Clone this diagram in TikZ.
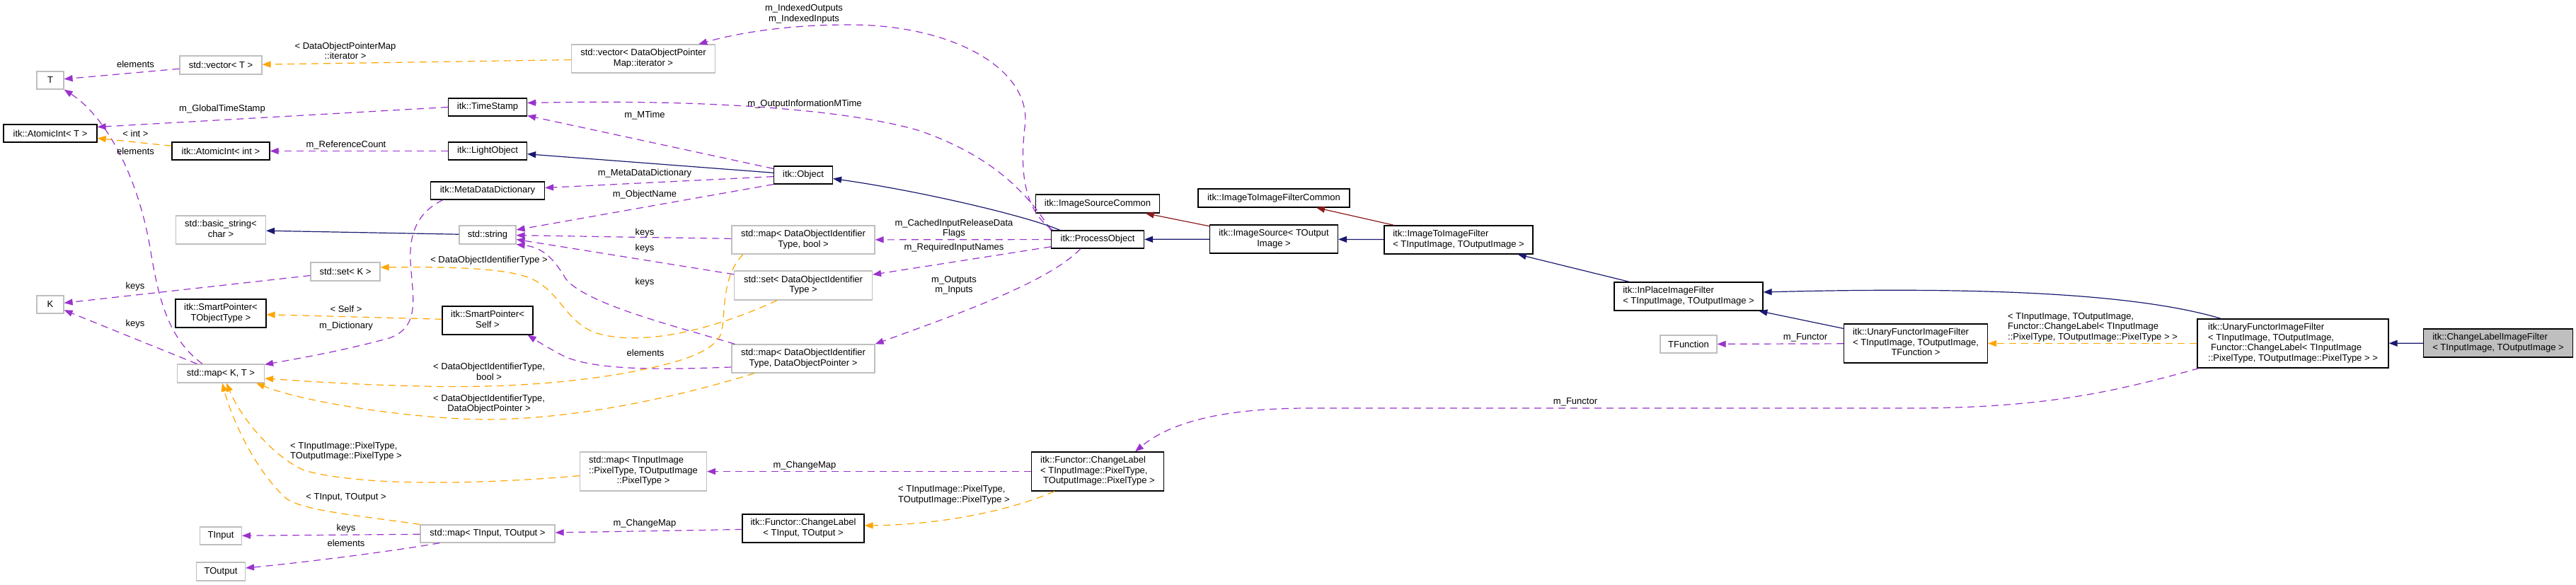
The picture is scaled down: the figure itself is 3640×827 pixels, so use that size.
\documentclass[tikz,border=0pt]{standalone}
\usepackage{fontspec}
\setmainfont{Liberation Sans}
\usetikzlibrary{arrows.meta,calc}
\definecolor{purp}{RGB}{154,50,205}
\definecolor{orng}{RGB}{255,165,0}
\definecolor{navy}{RGB}{25,25,112}
\definecolor{fire}{RGB}{139,26,26}
\definecolor{gry}{RGB}{191,191,191}
\newcommand\dxl[1]{\begin{tabular}{@{}l@{}}#1\end{tabular}}
\newcommand\dxc[1]{\multicolumn{1}{@{}c@{}}{#1}}
\begin{document}
\begin{tikzpicture}[x=1pt,y=-1pt,font=\fontsize{13}{14.5}\selectfont,
 box/.style={draw=black,line width=1.2pt,inner sep=0pt,minimum height=25pt,fill=white},
 gbox/.style={box,draw=gry},
 use/.style={draw=purp,line width=1.2pt,dash pattern=on 10pt off 7pt,-{Triangle[length=12pt,width=9pt]}},
 tpl/.style={use,draw=orng},
 pub/.style={draw=navy,line width=1.2pt,-{Triangle[length=12pt,width=9pt]}},
 prot/.style={pub,draw=fire},
 lab/.style={inner sep=0pt,align=center}]
\fill[white] (0,0) rectangle (3640,827);
\useasboundingbox (0,0) rectangle (3640,827);
% nodes
\node[gbox,minimum width=38pt] (T) at (71,113.5) {T};
\node[gbox,minimum width=116pt,minimum height=26pt] (vecT) at (312,92) {std::vector< T >};
\node[box,minimum width=132pt] (aiT) at (71,188.5) {itk::AtomicInt< T >};
\node[box,minimum width=138pt] (aiInt) at (312,213.5) {itk::AtomicInt< int >};
\node[gbox,minimum width=127pt,minimum height=40pt] (bstr) at (312,325) {\dxl{std::basic\_string<\\\dxc{char >}}};
\node[gbox,minimum width=98pt,minimum height=26pt] (setK) at (488,384) {std::set< K >};
\node[gbox,minimum width=38pt] (K) at (71,430.5) {K};
\node[box,minimum width=128pt,minimum height=40pt] (spT) at (312,443) {\dxl{itk::SmartPointer<\\\dxc{TObjectType >}}};
\node[gbox,minimum width=123pt,minimum height=26pt] (mapKT) at (312,528) {std::map< K, T >};
\node[gbox,minimum width=59pt] (TIn) at (312,757.5) {TInput};
\node[gbox,minimum width=69pt,minimum height=26pt] (TOut) at (312,808) {TOutput};
\node[gbox,minimum width=190pt] (mapIO) at (689,754.5) {std::map< TInput, TOutput >};
\node[gbox,minimum width=203pt,minimum height=40pt] (vecDOP) at (909,83) {\dxl{std::vector< DataObjectPointer\\\dxc{Map::iterator >}}};
\node[box,minimum width=111pt] (ts) at (689,151.5) {itk::TimeStamp};
\node[box,minimum width=111pt] (lo) at (689,213.5) {itk::LightObject};
\node[box,minimum width=161pt] (mdd) at (689,269.5) {itk::MetaDataDictionary};
\node[gbox,minimum width=80pt,minimum height=26pt] (str) at (689,332) {std::string};
\node[box,minimum width=83pt] (obj) at (1135,247.5) {itk::Object};
\node[gbox,minimum width=202pt,minimum height=40pt] (mapB) at (1135,339) {\dxl{std::map< DataObjectIdentifier\\\dxc{Type, bool >}}};
\node[gbox,minimum width=195pt,minimum height=41pt] (setD) at (1135,403.5) {\dxl{std::set< DataObjectIdentifier\\\dxc{Type >}}};
\node[box,minimum width=128pt,minimum height=40pt] (spS) at (689,453) {\dxl{itk::SmartPointer<\\\dxc{Self >}}};
\node[gbox,minimum width=202pt,minimum height=40pt] (mapP) at (1135,507) {\dxl{std::map< DataObjectIdentifier\\\dxc{Type, DataObjectPointer >}}};
\node[gbox,minimum width=179pt,minimum height=55pt] (mapPix) at (909,666.5) {\dxl{std::map< TInputImage\\::PixelType, TOutputImage\\\dxc{::PixelType >}}};
\node[box,minimum width=172pt,minimum height=40pt] (clIO) at (1135,747) {\dxl{itk::Functor::ChangeLabel\\\dxc{< TInput, TOutput >}}};
\node[box,minimum width=131pt] (po) at (1551,338.5) {itk::ProcessObject};
\node[box,minimum width=175pt,minimum height=26pt] (isc) at (1551,288) {itk::ImageSourceCommon};
\node[box,minimum width=214pt,minimum height=26pt] (itic) at (1800,280) {itk::ImageToImageFilterCommon};
\node[box,minimum width=181pt,minimum height=40pt] (is) at (1800,338) {\dxl{itk::ImageSource< TOutput\\\dxc{Image >}}};
\node[box,minimum width=210pt,minimum height=40pt] (itif) at (2061,339) {\dxl{itk::ImageToImageFilter\\< TInputImage, TOutputImage >}};
\node[box,minimum width=210pt,minimum height=40pt] (ipf) at (2386,419) {\dxl{itk::InPlaceImageFilter\\< TInputImage, TOutputImage >}};
\node[gbox,minimum width=80pt] (tf) at (2386,486.5) {TFunction};
\node[box,minimum width=203pt,minimum height=55pt] (uftf) at (2707,485.5) {\dxl{itk::UnaryFunctorImageFilter\\< TInputImage, TOutputImage,\\\dxc{TFunction >}}};
\node[box,minimum width=270pt,minimum height=69pt] (ufcl) at (3240,485.5) {\dxl{itk::UnaryFunctorImageFilter\\< TInputImage, TOutputImage,\\\hspace*{4pt}Functor::ChangeLabel< TInputImage\\::PixelType, TOutputImage::PixelType > >}};
\node[box,fill=gry,minimum width=211pt,minimum height=40pt] (clf) at (3530,485) {\dxl{itk::ChangeLabelImageFilter\\< TInputImage, TOutputImage >}};
\node[box,minimum width=187pt,minimum height=55pt] (clP) at (1551,666.5) {\dxl{itk::Functor::ChangeLabel\\< TInputImage::PixelType,\\\hspace*{4pt}TOutputImage::PixelType >}};
% purple usage edges
\draw[use] (vecT) -- (T);
\draw[use] ($(mapKT.north)+(-26,0)$) .. controls (240,480) and (225,430) .. (212,350) .. controls (195,250) and (150,165) .. (T.south east);
\draw[use] (ts.west) -- ($(aiT.east)+(0,-9)$);
\draw[use] (lo) -- (aiInt);
\draw[use] (setK) -- (K);
\draw[use] (mapKT) -- (K);
\draw[use] ($(mdd.south west)+(18,0)$) .. controls (590,300) and (578,330) .. (580,370) .. controls (583,420) and (595,462) .. (550,478) .. controls (480,497) and (420,507) .. ($(mapKT.north east)+(0,1)$);
\draw[use] (mapIO) -- (TIn);
\draw[use] ($(mapIO.south west)+(28,0)$) .. controls (550,780) and (430,795) .. ($(TOut.east)+(0,-5)$);
\draw[use] ($(mapP.west)+(0,12)$) .. controls (950,522) and (850,525) .. (800,505) .. controls (780,495) and (762,484) .. ($(spS.south east)+(-8,0)$);
\draw[use] (obj) -- (ts);
\draw[use] (po.north west) .. controls (1450,270) and (1400,220) .. (1300,185) .. controls (1200,155) and (1000,140) .. ($(ts.east)+(0,-6)$);
\draw[use] ($(po.north west)+(3,0)$) .. controls (1450,300) and (1440,250) .. (1448,180) .. controls (1460,100) and (1350,35) .. (1200,35) .. controls (1100,35) and (1030,50) .. ($(vecDOP.north east)+(-24,0)$);
\draw[use] (obj) -- (mdd);
\draw[use] (obj.south west) -- ($(str.east)+(0,-7)$);
\draw[use] (mapB) -- (str);
\draw[use] (setD) -- (str);
\draw[use] ($(mapP.north west)+(5,0)$) .. controls (950,460) and (830,430) .. (800,395) .. controls (785,370) and (770,350) .. (str.south east);
\draw[use] (po) -- (mapB);
\draw[use] (po) -- (setD);
\draw[use] ($(po.south)+(-24,0)$) .. controls (1480,400) and (1350,445) .. (mapP.north east);
\draw[use] (uftf) -- (tf);
\draw[use] ($(ufcl.south west)+(3,0)$) .. controls (3000,550) and (2900,577) .. (2700,577) -- (1850,577) .. controls (1720,577) and (1650,600) .. ($(clP.north)+(53,0)$);
\draw[use] (clP) -- (mapPix);
\draw[use] (clIO) -- (mapIO);
% orange template edges
\draw[tpl] (aiInt) -- (aiT);
\draw[tpl] (vecDOP) -- (vecT);
\draw[tpl] (spS) -- (spT);
\draw[tpl] ($(setD.south)+(-37,0)$) .. controls (1000,470) and (900,490) .. (840,470) .. controls (795,452) and (790,405) .. (740,390) .. controls (700,378) and (620,377) .. ($(setK.east)+(0,-6)$);
\draw[tpl] ($(mapB.south)+(-85,0)$) .. controls (1020,390) and (1025,440) .. (1020,468) .. controls (1012,500) and (950,515) .. (880,528) .. controls (780,545) and (680,548) .. (600,546) .. controls (500,544) and (420,538) .. ($(mapKT.east)+(0,7)$);
\draw[tpl] ($(mapP.south)+(-69,0)$) .. controls (980,555) and (800,600) .. (650,592) .. controls (540,586) and (420,565) .. ($(mapKT.south east)+(-12,0)$);
\draw[tpl] ($(mapPix.west)+(0,6)$) .. controls (700,683) and (520,690) .. (430,665) .. controls (385,645) and (340,590) .. ($(mapKT.south)+(8,0)$);
\draw[tpl] (mapIO.north west) .. controls (500,728) and (430,722) .. (405,705) .. controls (365,670) and (330,600) .. ($(mapKT.south)+(2,0)$);
\draw[tpl] ($(clP.south west)+(33,0)$) .. controls (1420,725) and (1320,742) .. ($(clIO.east)+(0,-4)$);
\draw[tpl] (ufcl) -- (uftf);
% inheritance edges
\draw[pub] (str) -- (bstr);
\draw[pub] (obj) -- (lo);
\draw[pub] ($(po.north west)+(13,0)$) .. controls (1450,305) and (1300,270) .. ($(obj.east)+(0,5)$);
\draw[pub] (is) -- (po);
\draw[pub] (itif) -- (is);
\draw[pub] (ipf) -- (itif);
\draw[pub] (uftf) -- (ipf);
\draw[pub] ($(ufcl.north west)+(34,0)$) .. controls (3020,415) and (2800,405) .. ($(ipf.east)+(0,-6)$);
\draw[pub] (clf) -- (ufcl);
\draw[prot] (is) -- (isc);
\draw[prot] (itif) -- (itic);
% edge labels
\node[lab] (l1) at (191.5,91) {elements};
\node[lab] (l2) at (191.5,214) {elements};
\node[lab] (l3) at (314,154) {m\_GlobalTimeStamp};
\node[lab] (l4) at (191.5,189) {< int >};
\node[lab] (l5) at (489,205) {m\_ReferenceCount};
\node[lab] (l6) at (191,405) {keys};
\node[lab] (l7) at (191,458) {keys};
\node[lab] (l8) at (488,72) {< DataObjectPointerMap\\::iterator >};
\node[lab] (l9) at (489,437) {< Self >};
\node[lab] (l10) at (489,461) {m\_Dictionary};
\node[lab,align=left] (l11) at (489,638) {< TInputImage::PixelType,\\TOutputImage::PixelType >};
\node[lab] (l12) at (489,703) {< TInput, TOutput >};
\node[lab] (l13) at (489,747) {keys};
\node[lab] (l14) at (489,768) {elements};
\node[lab] (l15) at (1136,19.5) {m\_IndexedOutputs\\m\_IndexedInputs};
\node[lab] (l16) at (1137,147) {m\_OutputInformationMTime};
\node[lab] (l17) at (911,163) {m\_MTime};
\node[lab] (l18) at (911,245) {m\_MetaDataDictionary};
\node[lab] (l19) at (911,275) {m\_ObjectName};
\node[lab] (l20) at (911,329) {keys};
\node[lab] (l21) at (911,351) {keys};
\node[lab] (l22) at (691,368) {< DataObjectIdentifierType >};
\node[lab] (l23) at (911,399) {keys};
\node[lab] (l24) at (691,525.5) {< DataObjectIdentifierType,\\bool >};
\node[lab] (l25) at (912,499) {elements};
\node[lab] (l26) at (691,571) {< DataObjectIdentifierType,\\DataObjectPointer >};
\node[lab] (l27) at (1137,658) {m\_ChangeMap};
\node[lab] (l28) at (911,740) {m\_ChangeMap};
\node[lab] (l29) at (1348,323) {m\_CachedInputReleaseData\\Flags};
\node[lab] (l30) at (1348,350) {m\_RequiredInputNames};
\node[lab] (l31) at (1348,403.5) {m\_Outputs\\m\_Inputs};
\node[lab,align=left] (l32) at (1348,699.5) {< TInputImage::PixelType,\\TOutputImage::PixelType >};
\node[lab] (l33) at (2551,477) {m\_Functor};
\node[lab] (l34) at (2226,568) {m\_Functor};
\node[lab,align=left] (l35) at (2957,462.5) {< TInputImage, TOutputImage,\\Functor::ChangeLabel< TInputImage\\::PixelType, TOutputImage::PixelType > >};
\end{tikzpicture}
\end{document}
